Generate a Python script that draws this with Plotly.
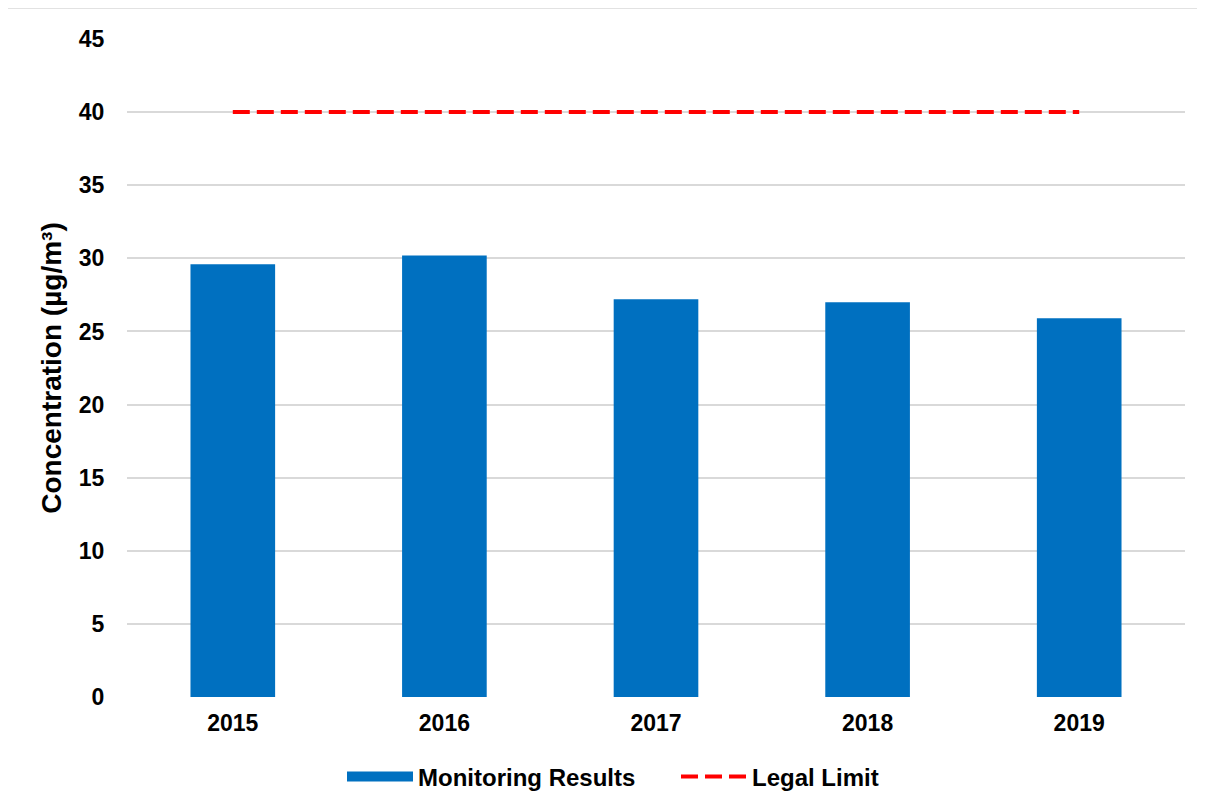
import plotly.graph_objects as go

years = ["2015", "2016", "2017", "2018", "2019"]
monitoring = [29.6, 30.2, 27.2, 27.0, 25.9]
legal_limit = [40, 40, 40, 40, 40]
y_ticks = [0, 5, 10, 15, 20, 25, 30, 35, 40, 45]

BLUE = "#0070C0"
RED = "#FF0000"
FONT = "Liberation Sans, Arial, sans-serif"

# page offset (browser default body margin of 8px)
OFF = 8
W, H = 1205 - OFF, 807 - OFF
PL, PR, PT, PB = 127, 1185, 39, 697  # plot area in page pixels
PW, PH = PR - PL, PB - PT


def px(xp):
    return (xp - PL) / PW


def py(yp):
    return (PB - yp) / PH


def cx(xp):
    return (xp - OFF) / W


def cy(yp):
    return (H - (yp - OFF)) / H


fig = go.Figure()
fig.add_trace(go.Bar(x=years, y=monitoring, marker=dict(color=BLUE, line=dict(width=0)),
                     width=0.4, showlegend=False, name="Monitoring Results"))
# legend entry for bars drawn as a thick line
fig.add_trace(go.Scatter(x=[None], y=[None], mode="lines", name="Monitoring Results",
                         line=dict(color=BLUE, width=10), legend="legend"))
fig.add_trace(go.Scatter(x=years, y=legal_limit, mode="lines", name="Legal Limit",
                         line=dict(color=RED, width=4, dash="17px,7px"), legend="legend2"))

legend_font = dict(family=FONT, size=24, color="#000000", weight="bold")

fig.update_layout(
    width=W, height=H,
    margin=dict(l=PL - OFF, r=W - (PR - OFF), t=PT - OFF, b=H - (PB - OFF), autoexpand=False),
    paper_bgcolor="white", plot_bgcolor="white",
    font=dict(family=FONT, size=23, color="#000000"),
    legend=dict(orientation="h", xref="container", yref="container",
                x=cx(347 - 5), xanchor="left", y=cy(777), yanchor="middle",
                font=legend_font, itemwidth=66, bgcolor="rgba(0,0,0,0)"),
    legend2=dict(orientation="h", xref="container", yref="container",
                 x=cx(681 - 5), xanchor="left", y=cy(777), yanchor="middle",
                 font=legend_font, itemwidth=66, bgcolor="rgba(0,0,0,0)"),
    xaxis=dict(type="category", showgrid=False, showline=False, zeroline=False,
               automargin=False,
               ticks="outside", ticklen=5, tickcolor="rgba(0,0,0,0)",
               tickfont=dict(family=FONT, size=23, weight="bold")),
    yaxis=dict(range=[0, 45], tickvals=y_ticks, showgrid=True, gridcolor="#D9D9D9",
               gridwidth=1.5, zeroline=False, showline=False, automargin=False,
               ticks="outside", ticklen=17, tickcolor="rgba(0,0,0,0)",
               tickfont=dict(family=FONT, size=23, weight="bold"),
               title=dict(text="Concentration (µg/m³)", standoff=9,
                          font=dict(family=FONT, size=28, weight="bold"))),
    shapes=[dict(type="rect", xref="paper", yref="paper",
                 x0=px(7), x1=px(1215), y0=py(815), y1=py(8),
                 line=dict(color="#D9D9D9", width=1.5), fillcolor="rgba(0,0,0,0)",
                 layer="below")],
)

fig.write_html("out.html")
